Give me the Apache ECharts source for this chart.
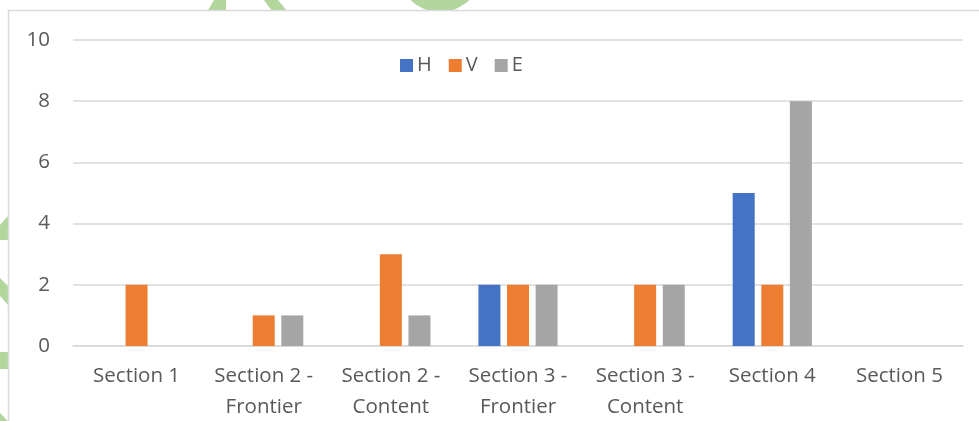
<!DOCTYPE html>
<html><head><meta charset="utf-8">
<script src="https://cdn.jsdelivr.net/npm/echarts@6/dist/echarts.min.js"></script>
<style>html,body{margin:0;padding:0;background:#fff}#c{width:979px;height:421px}</style>
</head><body><div id="c"></div>
<script>
const categories = ['Section 1', 'Section 2 -\nFrontier', 'Section 2 -\nContent', 'Section 3 -\nFrontier', 'Section 3 -\nContent', 'Section 4', 'Section 5'];
const seriesNames = ['H', 'V', 'E'];
const valuesH = [0, 0, 0, 2, 0, 5, 0];
const valuesV = [2, 1, 3, 2, 2, 2, 0];
const valuesE = [0, 1, 1, 2, 2, 8, 0];
const yTicks = {min: 0, max: 10, interval: 2};

const colors = ['#4472c4', '#ed7d31', '#a5a5a5'];
const font = '"Open Sans", "Noto Sans", sans-serif';
const green = '#b3d69d';
const chart = echarts.init(document.getElementById('c'), null, {renderer: 'canvas'});
chart.setOption({
  animation: false,
  color: colors,
  graphic: [
    {type: 'polygon', z: -1, shape: {points: [[207, 12], [226, 12], [226, 0], [214, 0]]}, style: {fill: green}},
    {type: 'polygon', z: -1, shape: {points: [[263, -1], [277, -1], [288, 12], [273, 12]]}, style: {fill: green}},
    {type: 'arc', z: -1, shape: {cx: 440, cy: -30, r: 33, startAngle: 0.25, endAngle: Math.PI - 0.25}, style: {stroke: green, lineWidth: 18, fill: null}},
    {type: 'polygon', z: -1, shape: {points: [[0, 225], [8, 216], [8, 240], [0, 240]]}, style: {fill: green}},
    {type: 'polygon', z: -1, shape: {points: [[0, 278], [8, 286], [8, 305], [0, 296]]}, style: {fill: green}},
    {type: 'rect', z: -1, shape: {x: 0, y: 352, width: 8, height: 17}, style: {fill: green}},
    {type: 'polygon', z: -1, shape: {points: [[0, 413], [8, 421], [0, 421]]}, style: {fill: green}},
    {type: 'rect', z: 0, shape: {x: 8.5, y: 10.5, width: 980, height: 420}, style: {fill: '#fff', stroke: '#d9d9d9', lineWidth: 1.5}}
  ],
  legend: {
    left: 400, top: 55, padding: 0,
    itemWidth: 13, itemHeight: 13, itemGap: 17,
    icon: 'rect',
    textStyle: {fontFamily: font, fontSize: 20, lineHeight: 21, color: '#595959', padding: [0, 0, 0, -1]},
    data: seriesNames
  },
  grid: {left: 73, right: 16, top: 40, bottom: 75, containLabel: false, outerBoundsMode: 'none'},
  xAxis: {
    type: 'category', data: categories,
    axisLine: {lineStyle: {color: '#d9d9d9', width: 1.5}},
    axisTick: {show: false},
    axisLabel: {fontFamily: font, fontSize: 20.5, color: '#595959', margin: 15, lineHeight: 31, interval: 0}
  },
  yAxis: {
    type: 'value', min: yTicks.min, max: yTicks.max, interval: yTicks.interval,
    axisLine: {show: false}, axisTick: {show: false},
    splitLine: {lineStyle: {color: '#d9d9d9', width: 1.5}},
    axisLabel: {fontFamily: font, fontSize: 20.5, color: '#595959', margin: 23}
  },
  series: [
    {name: 'H', type: 'bar', data: valuesH, barWidth: 22, barGap: '30%'},
    {name: 'V', type: 'bar', data: valuesV, barWidth: 22, barGap: '30%'},
    {name: 'E', type: 'bar', data: valuesE, barWidth: 22, barGap: '30%'}
  ]
});
</script></body></html>
